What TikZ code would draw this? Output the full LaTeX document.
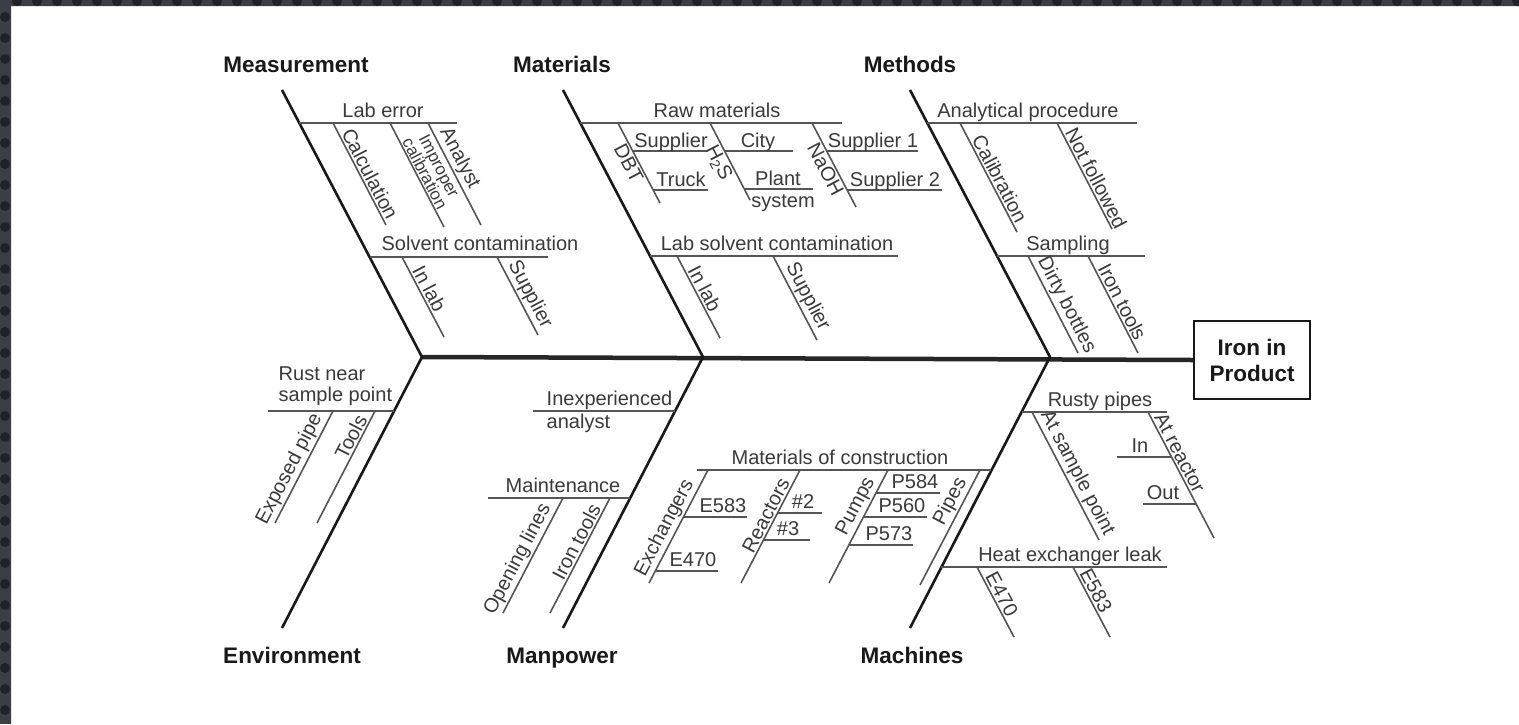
\documentclass[tikz,border=0pt]{standalone}
\usepackage{fontspec}
\setmainfont{Liberation Sans}
\definecolor{txt}{HTML}{3A3A3A}
\definecolor{ln}{HTML}{555555}
\definecolor{frame}{HTML}{3B3E44}
\definecolor{framedot}{HTML}{1F2328}
\tikzset{
  bone/.style={line width=2.6pt, draw=black!90, line join=round},
  spine/.style={line width=4.5pt, draw=black!85},
  sub/.style={line width=1.6pt, draw=ln},
  lbl/.style={font=\fontsize{20}{21}\selectfont, text=txt, inner sep=1.5pt},
  small/.style={font=\fontsize{17}{16}\selectfont, text=txt, inner sep=1pt},
  hdr/.style={font=\fontsize{22.5}{26}\selectfont\bfseries, text=black!90},
}
\begin{document}
\begin{tikzpicture}[x=1pt,y=-1pt]
\useasboundingbox (0,0) rectangle (1519,724);
\fill[white] (0,0) rectangle (1519,724);
% dark frame strips
\begin{scope}
\clip (0,0) rectangle (11,724) (0,0) rectangle (1519,6);
\fill[frame] (0,0) rectangle (1519,724);
\foreach \k in {0,...,34} {\fill[framedot] (5,{17+21*\k}) circle (5);}
\foreach \k in {0,...,75} {\fill[framedot] ({17+20*\k},1) circle (5);}
\end{scope}

% ---------- main structure ----------
\node[draw=black!90, line width=2.5pt, minimum width=116, minimum height=78,
      hdr, align=center] (box) at (1252,360) {Iron in\\Product};
\coordinate (mTop) at (282,90);  \coordinate (mV) at (422,357);  \coordinate (eBot) at (282,628);
\coordinate (maTop) at (563,90); \coordinate (maV) at (703,357); \coordinate (mpBot) at (563,628);
\coordinate (meTop) at (910,90); \coordinate (meV) at (1050,357); \coordinate (mcBot) at (910,628);
\draw[spine] (mV) -- (box.west);
\draw[bone] (mTop) -- (mV) -- (eBot);
\draw[bone] (maTop) -- (maV) -- (mpBot);
\draw[bone] (meTop) -- (meV) -- (mcBot);

\node[hdr, anchor=base] (hMeas) at (296,72) {Measurement};
\node[hdr, anchor=base] (hMat) at (562,72) {Materials};
\node[hdr, anchor=base] (hMeth) at (910,72) {Methods};
\node[hdr, anchor=base] (hEnv) at (292,663) {Environment};
\node[hdr, anchor=base] (hMan) at (562,663) {Manpower};
\node[hdr, anchor=base] (hMach) at (912,663) {Machines};

% ---------- Measurement ----------
\coordinate (le) at (299,123);
\draw[sub] (le) -- ++(158,0);
\node[lbl, anchor=base] (tLe) at (383,117) {Lab error};
\coordinate (le1) at (333,123);
\draw[sub] (le1) -- ++(53,102) node[lbl, sloped, above, pos=.54] (tCalc) {Calculation};
\coordinate (le2) at (390,123);
\draw[sub] (le2) -- ++(54,104) node[small, sloped, above, pos=.52, align=center] (tImp) {Improper\\calibration};
\coordinate (le3) at (428,123);
\draw[sub] (le3) -- ++(53,102) node[lbl, sloped, above, pos=.4] (tAn) {Analyst};
\coordinate (sc) at (370,257);
\draw[sub] (sc) -- ++(178,0);
\node[lbl, anchor=base] (tSc) at (480,250) {Solvent contamination};
\coordinate (sc1) at (402,257);
\draw[sub] (sc1) -- ++(42,80) node[lbl, sloped, above, pos=.45] (tInlab1) {In lab};
\coordinate (sc2) at (497,257);
\draw[sub] (sc2) -- ++(41,78) node[lbl, sloped, above, pos=.55] (tSup1) {Supplier};

% ---------- Materials ----------
\coordinate (rm) at (580,123);
\draw[sub] (rm) -- ++(262,0);
\node[lbl, anchor=base] (tRm) at (717,117) {Raw materials};
\coordinate (rm1) at (618,123);
\draw[sub] (rm1) -- ++(42,80) node[lbl, sloped, below, pos=.45] (tDbt) {DBT};
\coordinate (tw1) at (633,151);
\draw[sub] (tw1) -- ++(74,0);
\node[lbl, anchor=base] (tSupA) at (671,147) {Supplier};
\coordinate (tw2) at (653,190);
\draw[sub] (tw2) -- ++(55,0);
\node[lbl, anchor=base] (tTruck) at (681,186) {Truck};
\coordinate (rm2) at (710,123);
\draw[sub] (rm2) -- ++(40,77) node[lbl, sloped, below, pos=.45] (tH2s) {H\textsubscript{2}S};
\coordinate (tw3) at (725,151);
\draw[sub] (tw3) -- ++(68,0);
\node[lbl, anchor=base] (tCity) at (758,147) {City};
\coordinate (tw4) at (744,189);
\draw[sub] (tw4) -- ++(69,0);
\node[lbl, anchor=base] (tPlant) at (778,185) {Plant};
\node[lbl, anchor=base] (tSystem) at (783,207) {system};
\coordinate (rm3) at (812,123);
\draw[sub] (rm3) -- ++(44,84) node[lbl, sloped, below, pos=.5] (tNaoh) {NaOH};
\coordinate (tw5) at (827,151);
\draw[sub] (tw5) -- ++(91,0);
\node[lbl, anchor=base] (tS1) at (873,147) {Supplier 1};
\coordinate (tw6) at (847,190);
\draw[sub] (tw6) -- ++(95,0);
\node[lbl, anchor=base] (tS2) at (895,186) {Supplier 2};
\coordinate (ls) at (650,256);
\draw[sub] (ls) -- ++(248,0);
\node[lbl, anchor=base] (tLs) at (777,250) {Lab solvent contamination};
\coordinate (ls1) at (677,256);
\draw[sub] (ls1) -- ++(43,82) node[lbl, sloped, above, pos=.45] (tInlab2) {In lab};
\coordinate (ls2) at (773,256);
\draw[sub] (ls2) -- ++(44,84) node[lbl, sloped, above, pos=.55] (tSup2) {Supplier};

% ---------- Methods ----------
\coordinate (ap) at (927,123);
\draw[sub] (ap) -- ++(210,0);
\node[lbl, anchor=base] (tAp) at (1028,117) {Analytical procedure};
\coordinate (ap1) at (960,123);
\draw[sub] (ap1) -- ++(57,109) node[lbl, sloped, above, pos=.55] (tCal) {Calibration};
\coordinate (ap2) at (1057,123);
\draw[sub] (ap2) -- ++(55,106) node[lbl, sloped, above, pos=.56] (tNf) {Not followed};
\coordinate (sa) at (997,256);
\draw[sub] (sa) -- ++(148,0);
\node[lbl, anchor=base] (tSa) at (1068,250) {Sampling};
\coordinate (sa1) at (1028,256);
\draw[sub] (sa1) -- ++(50,97) node[lbl, sloped, above, pos=.56] (tDb) {Dirty bottles};
\coordinate (sa2) at (1088,256);
\draw[sub] (sa2) -- ++(50,97) node[lbl, sloped, above, pos=.52] (tIt1) {Iron tools};

% ---------- Environment ----------
\coordinate (rn) at (268,411);
\draw[sub] (rn) -- ++(126,0);
\node[lbl, anchor=base west] (tRn1) at (277,380) {Rust near};
\node[lbl, anchor=base west] (tRn2) at (277,401) {sample point};
\coordinate (rn1) at (333,411);
\draw[sub] (rn1) -- ++(-58,112) node[lbl, sloped, above, pos=.57] (tEp) {Exposed pipe};
\coordinate (rn2) at (375,411);
\draw[sub] (rn2) -- ++(-58,112) node[lbl, sloped, above, pos=.27] (tTools) {Tools};

% ---------- Manpower ----------
\coordinate (ia) at (533,411);
\draw[sub] (ia) -- ++(142,0);
\node[lbl, anchor=base west] (tIa1) at (545,405) {Inexperienced};
\node[lbl, anchor=base west] (tIa2) at (545,428) {analyst};
\coordinate (mt) at (488,498);
\draw[sub] (mt) -- ++(142,0);
\node[lbl, anchor=base] (tMt) at (563,492) {Maintenance};
\coordinate (mt1) at (563,498);
\draw[sub] (mt1) -- ++(-60,115) node[lbl, sloped, above, pos=.58] (tOl) {Opening lines};
\coordinate (mt2) at (610,498);
\draw[sub] (mt2) -- ++(-60,115) node[lbl, sloped, above, pos=.42] (tIt2) {Iron tools};

% ---------- Machines ----------
\coordinate (mc) at (697,470);
\draw[sub] (mc) -- ++(294,0);
\node[lbl, anchor=base] (tMc) at (840,464) {Materials of construction};
\coordinate (mc1) at (708,470);
\draw[sub] (mc1) -- ++(-59,113) node[lbl, sloped, above, pos=.56] (tEx) {Exchangers};
\coordinate (tw7) at (684,517);
\draw[sub] (tw7) -- ++(63,0);
\node[lbl, anchor=base] (tE583a) at (723,512) {E583};
\coordinate (tw8) at (656,571);
\draw[sub] (tw8) -- ++(62,0);
\node[lbl, anchor=base] (tE470a) at (693,566) {E470};
\coordinate (mc2) at (800,470);
\draw[sub] (mc2) -- ++(-59,113) node[lbl, sloped, above, pos=.44] (tRe) {Reactors};
\coordinate (tw9) at (778,513);
\draw[sub] (tw9) -- ++(44,0);
\node[lbl, anchor=base] (tR2) at (803,508) {\#2};
\coordinate (tw10) at (764,540);
\draw[sub] (tw10) -- ++(46,0);
\node[lbl, anchor=base] (tR3) at (788,535) {\#3};
\coordinate (mc3) at (888,470);
\draw[sub] (mc3) -- ++(-59,113) node[lbl, sloped, above, pos=.37] (tPu) {Pumps};
\coordinate (tw11) at (876,493);
\draw[sub] (tw11) -- ++(64,0);
\node[lbl, anchor=base] (tP584) at (915,488) {P584};
\coordinate (tw12) at (864,517);
\draw[sub] (tw12) -- ++(63,0);
\node[lbl, anchor=base] (tP560) at (902,512) {P560};
\coordinate (tw13) at (849,545);
\draw[sub] (tw13) -- ++(64,0);
\node[lbl, anchor=base] (tP573) at (889,540) {P573};
\coordinate (mc4) at (980,470);
\draw[sub] (mc4) -- ++(-60,115) node[lbl, sloped, above, pos=.32] (tPi) {Pipes};

\coordinate (rp) at (1022,412);
\draw[sub] (rp) -- ++(145,0);
\node[lbl, anchor=base] (tRp) at (1100,406) {Rusty pipes};
\coordinate (rp1) at (1032,412);
\draw[sub] (rp1) -- ++(67,128) node[lbl, sloped, above, pos=.52] (tAsp) {At sample point};
\coordinate (rp2) at (1148,412);
\draw[sub] (rp2) -- ++(66,126) node[lbl, sloped, above, pos=.36] (tAr) {At reactor};
\coordinate (tw14) at (1117,457);
\draw[sub] (tw14) -- ++(54,0);
\node[lbl, anchor=base] (tIn) at (1140,452) {In};
\coordinate (tw15) at (1143,504);
\draw[sub] (tw15) -- ++(53,0);
\node[lbl, anchor=base] (tOut) at (1163,499) {Out};
\coordinate (hx) at (941,567);
\draw[sub] (hx) -- ++(226,0);
\node[lbl, anchor=base] (tHx) at (1070,561) {Heat exchanger leak};
\coordinate (hx1) at (977,567);
\draw[sub] (hx1) -- ++(37,70) node[lbl, sloped, above, pos=.45] (tE470b) {E470};
\coordinate (hx2) at (1073,567);
\draw[sub] (hx2) -- ++(37,70) node[lbl, sloped, above, pos=.4] (tE583b) {E583};
\end{tikzpicture}
\end{document}
